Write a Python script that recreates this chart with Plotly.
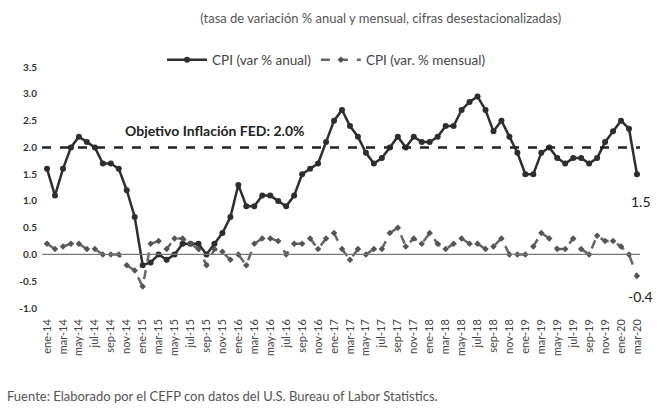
import plotly.graph_objects as go

months = ["ene", "feb", "mar", "abr", "may", "jun", "jul", "ago", "sep", "oct", "nov", "dic"]
years = ["14", "15", "16", "17", "18", "19", "20"]
categories = [f"{m}-{y}" for y in years for m in months][:75]  # ene-14 ... mar-20

cpi_anual = [1.6, 1.1, 1.6, 2.0, 2.2, 2.1, 2.0, 1.7, 1.7, 1.6, 1.2, 0.7,
             -0.2, -0.15, 0.0, -0.1, 0.0, 0.2, 0.2, 0.2, 0.0, 0.2, 0.4, 0.7,
             1.3, 0.9, 0.9, 1.1, 1.1, 1.0, 0.9, 1.1, 1.5, 1.6, 1.7, 2.1,
             2.5, 2.7, 2.4, 2.2, 1.9, 1.7, 1.8, 2.0, 2.2, 2.0, 2.2, 2.1,
             2.1, 2.2, 2.4, 2.4, 2.7, 2.85, 2.95, 2.7, 2.3, 2.5, 2.2, 1.9,
             1.5, 1.5, 1.9, 2.0, 1.8, 1.7, 1.8, 1.8, 1.7, 1.8, 2.1, 2.3,
             2.5, 2.35, 1.5]

cpi_mensual = [0.2, 0.1, 0.15, 0.2, 0.2, 0.1, 0.1, 0.0, 0.0, 0.0, -0.2, -0.3,
               -0.6, 0.2, 0.25, 0.1, 0.3, 0.3, 0.2, 0.1, -0.2, 0.1, 0.05, -0.1,
               0.0, -0.2, 0.2, 0.3, 0.3, 0.25, 0.0, 0.2, 0.2, 0.3, 0.1, 0.3,
               0.4, 0.1, -0.1, 0.1, 0.0, 0.1, 0.1, 0.4, 0.5, 0.15, 0.3, 0.2,
               0.4, 0.2, 0.1, 0.2, 0.3, 0.2, 0.2, 0.1, 0.15, 0.3, 0.0, 0.0,
               0.0, 0.15, 0.4, 0.3, 0.1, 0.1, 0.3, 0.1, 0.0, 0.35, 0.25, 0.25,
               0.15, 0.0, -0.4]

objetivo_fed = 2.0
y_ticks = [-1.0, -0.5, 0.0, 0.5, 1.0, 1.5, 2.0, 2.5, 3.0, 3.5]
tick_labels = categories[::2]

FONT = "Lato"

fig = go.Figure()

fig.add_trace(go.Scatter(
    x=categories, y=cpi_anual, name="CPI (var % anual)",
    mode="lines+markers",
    line=dict(color="#2e2e2e", width=2.5),
    marker=dict(symbol="circle", size=6, color="#2e2e2e"),
))
fig.add_trace(go.Scatter(
    x=categories, y=cpi_mensual, name="CPI (var. % mensual)",
    mode="lines+markers",
    line=dict(color="#666666", width=2.5, dash="dash"),
    marker=dict(symbol="diamond", size=5, color="#555555"),
))

# FED target line
fig.add_shape(type="line", xref="x domain", yref="y", x0=0, x1=1,
              y0=objetivo_fed, y1=objetivo_fed,
              line=dict(color="#222222", width=2.5, dash="dash"))
# zero line
fig.add_shape(type="line", xref="x domain", yref="y", x0=0, x1=1,
              y0=0, y1=0, line=dict(color="#777777", width=1.2))

fig.add_annotation(x=0.135, xref="x domain", y=objetivo_fed, yref="y",
                   text="<b>Objetivo Inflación FED: 2.0%</b>", showarrow=False,
                   xanchor="left", yanchor="middle", yshift=17,
                   font=dict(family=FONT, size=14, color="#222222"))
fig.add_annotation(x=categories[-1], y=cpi_anual[-1], text="1.5", showarrow=False,
                   xanchor="center", yanchor="middle", xshift=4, yshift=-27,
                   font=dict(family=FONT, size=14, color="#222222"))
fig.add_annotation(x=categories[-1], y=cpi_mensual[-1], text="-0.4", showarrow=False,
                   xanchor="center", yanchor="middle", xshift=4, yshift=-21,
                   font=dict(family=FONT, size=14, color="#222222"))

fig.add_annotation(x=-0.062, xref="paper", y=-0.34, yref="paper",
                   text="Fuente: Elaborado por el CEFP con datos del U.S. Bureau of Labor Statistics.",
                   showarrow=False, xanchor="left", yanchor="middle",
                   font=dict(family=FONT, size=13, color="#555555"))

fig.update_layout(
    width=661, height=408,
    margin=dict(l=42, r=21, t=50, b=100),
    paper_bgcolor="white", plot_bgcolor="white",
    font=dict(family=FONT, color="#333333"),
    title=dict(text="(tasa de variación % anual y mensual, cifras desestacionalizadas)",
               x=0.576, xanchor="center", y=0.955, yanchor="middle",
               font=dict(family=FONT, size=13, color="#555555")),
    showlegend=True,
    legend=dict(orientation="h", x=0.475, xanchor="center", y=0.961, yanchor="middle",
                font=dict(family=FONT, size=13.5, color="#444444"),
                itemwidth=40, bgcolor="rgba(0,0,0,0)"),
    xaxis=dict(type="category", range=[-0.63, 74.38], tickmode="array",
               tickvals=tick_labels, ticktext=tick_labels, tickangle=-90,
               tickfont=dict(family=FONT, size=11, color="#444444"),
               ticklabelstandoff=8,
               showgrid=False, showline=False, zeroline=False, ticks=""),
    yaxis=dict(range=[-1.0, 3.82], tickmode="array", tickvals=y_ticks,
               ticktext=[f"<b>{v:.1f}</b>" for v in y_ticks],
               tickfont=dict(family=FONT, size=10, color="#333333"),
               ticklabelstandoff=4,
               showgrid=False, showline=False, zeroline=False, ticks=""),
)

fig.write_html("out.html", config={"displayModeBar": False},
               post_script="document.body.style.margin='0';")
